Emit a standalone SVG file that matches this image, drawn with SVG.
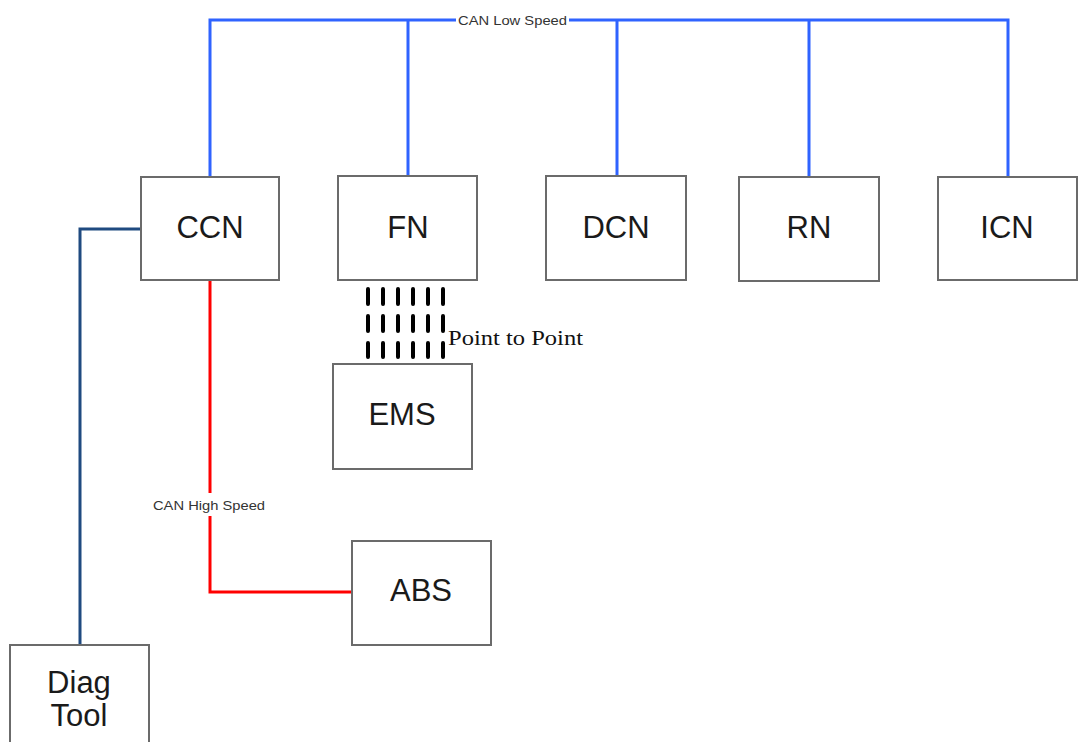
<svg xmlns="http://www.w3.org/2000/svg" width="1078" height="742" viewBox="0 0 1078 742">
<style>
.box{fill:#fff;stroke:#6b6b6b;stroke-width:2}
.lbl{font-family:"Liberation Sans",Arial,sans-serif;font-size:31px;fill:#1a1a1a;text-anchor:middle}
.can{fill:none;stroke-width:3;stroke-linejoin:miter}
.low{stroke:#2f63ff}
.high{stroke:#ff0000}
.diag{stroke:#1f4a80}
.small{font-family:"Liberation Sans",Arial,sans-serif;font-size:13px;fill:#333}
.dash{stroke:#000;stroke-width:4;stroke-linecap:round}
</style>
<rect width="1078" height="742" fill="#fff"/>
<g id="connectors">
  <path class="can low" d="M210,178 V20 H456 M569,20 H1008 V178"/>
  <path class="can low" d="M408,20 V176 M617,20 V176 M809,20 V178"/>
  <path class="can diag" d="M141,229 H80 V646"/>
  <path class="can high" d="M210,280 V493 M210,516 V592 H352"/>
  <line x1="332" y1="417" x2="334" y2="417" stroke="#ff0000" stroke-width="1.5"/>
  <g id="p2p">
    <path class="dash" d="M368,289V304M368,316V331M368,343V357M383,289V304M383,316V331M383,343V357M398,289V304M398,316V331M398,343V357M413,289V304M413,316V331M413,343V357M428,289V304M428,316V331M428,343V357M443,289V304M443,316V331M443,343V357"/>
  </g>
  <text class="small" x="458" y="25" textLength="109" lengthAdjust="spacingAndGlyphs">CAN Low Speed</text>
  <text class="small" x="153" y="510" textLength="112" lengthAdjust="spacingAndGlyphs">CAN High Speed</text>
  <text x="448" y="345" font-family="'Liberation Serif','Times New Roman',serif" font-size="20" fill="#111" textLength="135" lengthAdjust="spacingAndGlyphs">Point to Point</text>
</g>
<g id="CCN"><rect class="box" x="141" y="177" width="138" height="103"/><text class="lbl" x="210" y="238">CCN</text></g>
<g id="FN"><rect class="box" x="338" y="176" width="139" height="104"/><text class="lbl" x="408" y="238">FN</text></g>
<g id="DCN"><rect class="box" x="546" y="176" width="140" height="104"/><text class="lbl" x="616" y="238">DCN</text></g>
<g id="RN"><rect class="box" x="739" y="177" width="140" height="104"/><text class="lbl" x="809" y="238">RN</text></g>
<g id="ICN"><rect class="box" x="938" y="177" width="139" height="103"/><text class="lbl" x="1007" y="238">ICN</text></g>
<g id="EMS"><rect class="box" x="333" y="364" width="139" height="105"/><text class="lbl" x="402" y="425">EMS</text></g>
<g id="ABS"><rect class="box" x="352" y="541" width="139" height="104"/><text class="lbl" x="421" y="601">ABS</text></g>
<g id="DiagTool"><rect class="box" x="10" y="645" width="139" height="110"/><text class="lbl" x="79" y="693">Diag</text><text class="lbl" x="79" y="726">Tool</text></g>
</svg>
